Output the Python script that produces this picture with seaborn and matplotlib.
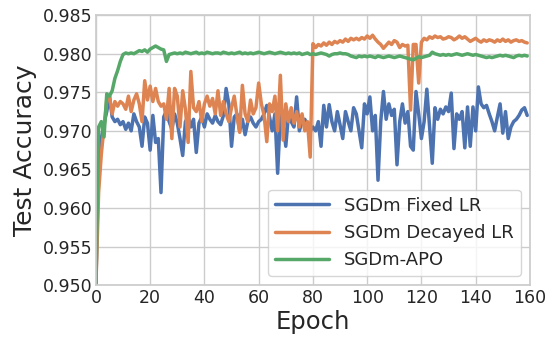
import numpy as np
import pandas as pd
import matplotlib
matplotlib.use("Agg")
import matplotlib.pyplot as plt
import seaborn as sns

# test accuracy per epoch
fixed_lr = [
    0.9500, 0.9660, 0.9690, 0.9710, 0.9725, 0.9745, 0.9718, 0.9712, 0.9715, 0.9708,
    0.9712, 0.9702, 0.9710, 0.9700, 0.9722, 0.9712, 0.9705, 0.9680, 0.9718, 0.9710,
    0.9675, 0.9720, 0.9685, 0.9690, 0.9620, 0.9718, 0.9726, 0.9712, 0.9702, 0.9722,
    0.9710, 0.9690, 0.9668, 0.9712, 0.9718, 0.9705, 0.9715, 0.9672, 0.9710, 0.9718,
    0.9705, 0.9722, 0.9715, 0.9710, 0.9720, 0.9712, 0.9708, 0.9720, 0.9755, 0.9735,
    0.9680, 0.9718, 0.9722, 0.9700, 0.9715, 0.9695, 0.9712, 0.9718, 0.9710, 0.9705,
    0.9712, 0.9715, 0.9722, 0.9733, 0.9718, 0.9700, 0.9722, 0.9645, 0.9720, 0.9712,
    0.9680, 0.9722, 0.9712, 0.9705, 0.9744, 0.9700, 0.9712, 0.9715, 0.9708, 0.9700,
    0.9705, 0.9700, 0.9712, 0.9680, 0.9733, 0.9705, 0.9734, 0.9712, 0.9700, 0.9725,
    0.9708, 0.9690, 0.9725, 0.9712, 0.9700, 0.9730, 0.9722, 0.9700, 0.9678, 0.9735,
    0.9722, 0.9744, 0.9700, 0.9720, 0.9636, 0.9712, 0.9751, 0.9715, 0.9735, 0.9720,
    0.9728, 0.9656, 0.9712, 0.9735, 0.9710, 0.9725, 0.9680, 0.9675, 0.9751, 0.9722,
    0.9690, 0.9712, 0.9754, 0.9705, 0.9658, 0.9730, 0.9715, 0.9728, 0.9722, 0.9731,
    0.9725, 0.9749, 0.9677, 0.9722, 0.9715, 0.9725, 0.9678, 0.9731, 0.9680, 0.9731,
    0.9700, 0.9757, 0.9735, 0.9730, 0.9733, 0.9722, 0.9712, 0.9700, 0.9718, 0.9735,
    0.9697, 0.9725, 0.9690, 0.9705, 0.9712, 0.9715, 0.9720, 0.9727, 0.9730, 0.9720,
]
decayed_lr = [
    0.9500, 0.9620, 0.9670, 0.9705, 0.9740, 0.9745, 0.9722, 0.9738, 0.9732, 0.9738,
    0.9735, 0.9728, 0.9745, 0.9725, 0.9740, 0.9748, 0.9735, 0.9712, 0.9765, 0.9740,
    0.9758, 0.9738, 0.9755, 0.9738, 0.9732, 0.9735, 0.9715, 0.9755, 0.9690, 0.9755,
    0.9745, 0.9705, 0.9752, 0.9728, 0.9685, 0.9777, 0.9730, 0.9725, 0.9738, 0.9712,
    0.9735, 0.9745, 0.9732, 0.9742, 0.9722, 0.9752, 0.9720, 0.9738, 0.9722, 0.9712,
    0.9730, 0.9745, 0.9720, 0.9698, 0.9759, 0.9722, 0.9712, 0.9740, 0.9722, 0.9730,
    0.9762, 0.9735, 0.9720, 0.9686, 0.9735, 0.9725, 0.9745, 0.9700, 0.9772, 0.9688,
    0.9735, 0.9712, 0.9730, 0.9710, 0.9725, 0.9705, 0.9722, 0.9700, 0.9712, 0.9666,
    0.9813, 0.9808, 0.9812, 0.9810, 0.9814, 0.9811, 0.9815, 0.9812, 0.9816, 0.9814,
    0.9817, 0.9815, 0.9819, 0.9816, 0.9820, 0.9818, 0.9820, 0.9818, 0.9821, 0.9819,
    0.9823, 0.9820, 0.9824, 0.9819, 0.9815, 0.9812, 0.9807, 0.9811, 0.9815, 0.9812,
    0.9817, 0.9815, 0.9808, 0.9812, 0.9810, 0.9811, 0.9727, 0.9812, 0.9812, 0.9762,
    0.9815, 0.9820, 0.9818, 0.9822, 0.9820, 0.9823, 0.9821, 0.9822, 0.9819, 0.9820,
    0.9822, 0.9821, 0.9818, 0.9820, 0.9823, 0.9820, 0.9822, 0.9819, 0.9816, 0.9818,
    0.9820, 0.9817, 0.9815, 0.9818, 0.9816, 0.9818, 0.9817, 0.9815, 0.9818, 0.9816,
    0.9819, 0.9816, 0.9818, 0.9815, 0.9817, 0.9818, 0.9816, 0.9817, 0.9815, 0.9814,
]
apo = [
    0.9500, 0.9705, 0.9712, 0.9692, 0.9748, 0.9745, 0.9752, 0.9768, 0.9778, 0.9790,
    0.9799, 0.9801, 0.9800, 0.9801, 0.9800, 0.9802, 0.9804, 0.9803, 0.9805, 0.9802,
    0.9806, 0.9808, 0.9810, 0.9808, 0.9806, 0.9805, 0.9790, 0.9799, 0.9800, 0.9801,
    0.9800, 0.9801, 0.9800, 0.9802, 0.9801, 0.9800, 0.9801, 0.9802, 0.9800, 0.9801,
    0.9800, 0.9802, 0.9801, 0.9800, 0.9801, 0.9801, 0.9800, 0.9802, 0.9801, 0.9800,
    0.9801, 0.9800, 0.9801, 0.9802, 0.9800, 0.9801, 0.9800, 0.9801, 0.9800, 0.9801,
    0.9802, 0.9801, 0.9800, 0.9801, 0.9802, 0.9801, 0.9800, 0.9801, 0.9802, 0.9801,
    0.9800, 0.9801, 0.9800, 0.9801, 0.9800, 0.9801, 0.9799, 0.9800, 0.9801, 0.9799,
    0.9800, 0.9799, 0.9800, 0.9801, 0.9800, 0.9799, 0.9797, 0.9799, 0.9800, 0.9800,
    0.9801, 0.9800, 0.9800, 0.9799, 0.9797, 0.9796, 0.9795, 0.9797, 0.9796, 0.9797,
    0.9796, 0.9797, 0.9796, 0.9795, 0.9797, 0.9796, 0.9795, 0.9796, 0.9797, 0.9796,
    0.9795, 0.9796, 0.9797, 0.9796, 0.9795, 0.9794, 0.9793, 0.9792, 0.9794, 0.9796,
    0.9795, 0.9796, 0.9797, 0.9798, 0.9802, 0.9800, 0.9799, 0.9798, 0.9799, 0.9798,
    0.9799, 0.9798, 0.9799, 0.9800, 0.9799, 0.9798, 0.9799, 0.9800, 0.9799, 0.9798,
    0.9799, 0.9798, 0.9797, 0.9796, 0.9795, 0.9796, 0.9795, 0.9796, 0.9797, 0.9798,
    0.9797, 0.9798, 0.9797, 0.9796, 0.9795, 0.9797, 0.9798, 0.9797, 0.9798, 0.9797,
]
series_names = ["SGDm Fixed LR", "SGDm Decayed LR", "SGDm-APO"]

epochs = np.arange(len(fixed_lr))
df = pd.DataFrame({
    "Epoch": np.tile(epochs, 3),
    "Test Accuracy": fixed_lr + decayed_lr + apo,
    "method": np.repeat(series_names, len(epochs)),
})

sns.set_theme(style="whitegrid")
fig, ax = plt.subplots(figsize=(5.48, 3.37), dpi=100)
fig.subplots_adjust(left=0.175, right=0.967, top=0.955, bottom=0.154)

sns.lineplot(data=df, x="Epoch", y="Test Accuracy", hue="method",
             hue_order=series_names, linewidth=2.5, ax=ax)

ax.set_xlim(0, 160)
ax.set_ylim(0.950, 0.985)
ax.set_xticks(range(0, 161, 20))
yt = np.arange(0.950, 0.9851, 0.005)
ax.set_yticks(yt)
ax.set_yticklabels([f"{v:.3f}" for v in yt])
ax.tick_params(axis="x", labelsize=12.5, pad=3, length=0)
ax.tick_params(axis="y", labelsize=12.5, pad=2.5, length=0)
ax.set_xlabel("Epoch", fontsize=17.5, labelpad=2)
ax.set_ylabel("Test Accuracy", fontsize=18, labelpad=4)
ax.legend(title=None, loc="lower right", fontsize=13, handlelength=3)

fig.savefig("out.png", dpi=100)
